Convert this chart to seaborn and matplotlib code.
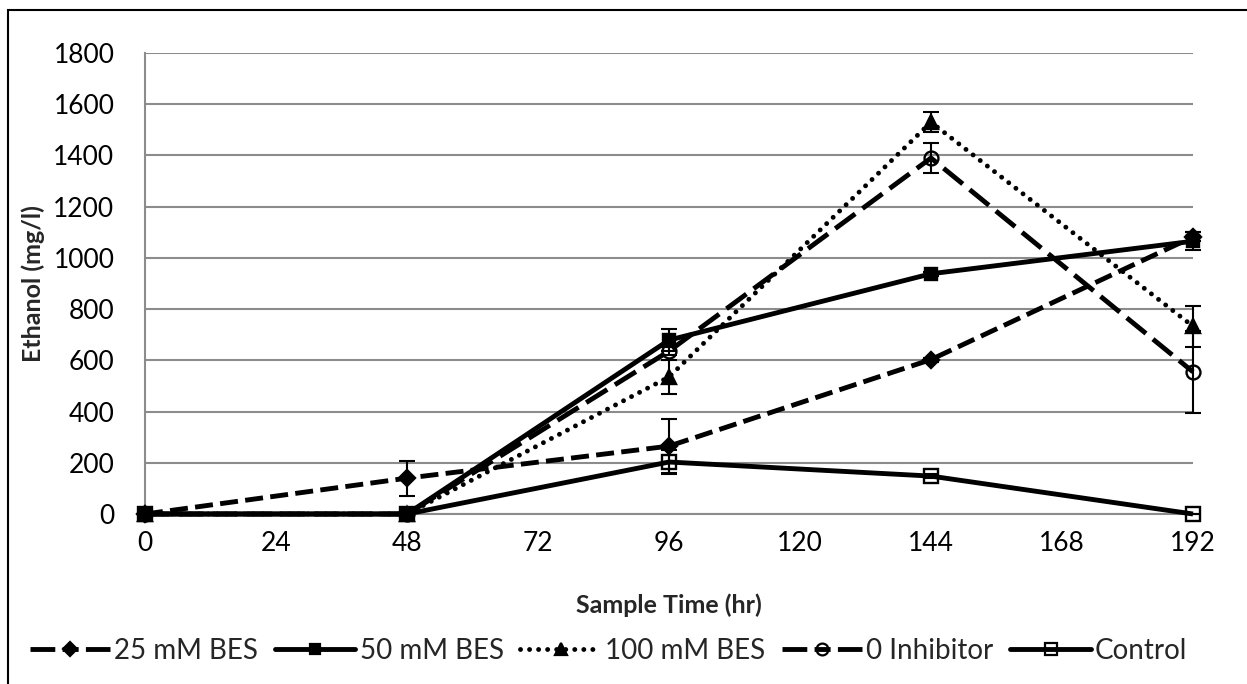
import matplotlib
matplotlib.use("Agg")
import matplotlib.pyplot as plt
from matplotlib.patches import Rectangle
from matplotlib.lines import Line2D
import numpy as np
import pandas as pd
import seaborn as sns

# Sample times (hr)
time_hr = [0, 48, 96, 144, 192]

# Ethanol concentration (mg/l) per treatment
bes_25 = [0, 140, 265, 603, 1082]
bes_50 = [0, 0, 679, 938, 1065]
bes_100 = [0, 0, 535, 1530, 733]
no_inhibitor = [0, 0, 636, 1390, 555]
control = [0, 0, 203, 148, 0]

# Error bar half-widths (mg/l)
err_25 = [0, 68, 105, 8, 18]
err_50 = [0, 0, 43, 8, 35]
err_100 = [0, 0, 65, 40, 80]
err_0 = [0, 0, 15, 57, 160]
err_ctrl = [0, 0, 45, 8, 0]

series_names = ["25 mM BES", "50 mM BES", "100 mM BES", "0 Inhibitor", "Control"]
x_ticks = [0, 24, 48, 72, 96, 120, 144, 168, 192]
y_ticks = list(range(0, 1801, 200))

sns.set_theme(style="white")
plt.rcParams["font.family"] = ["Lato", "DejaVu Sans"]

fig = plt.figure(figsize=(12.47, 6.84), dpi=100)
ax = fig.add_axes([145 / 1247, 1 - 514 / 684, (1193 - 145) / 1247, (514 - 53) / 684])

LW = 3.5
# legend handle dashes: dash, gap, (marker), gap, dash
LEG_DASH = (0, (5.1, 1.5, 3.3, 1.5))
styles = [
    dict(values=bes_25, err=err_25, ls=(0, (3.7, 1.5)), cap="butt", marker="D", ms=8.5, mfc="black",
         leg_ls=LEG_DASH),
    dict(values=bes_50, err=err_50, ls="-", cap="butt", marker="s", ms=8.5, mfc="black",
         leg_ls="-"),
    dict(values=bes_100, err=err_100, ls=(0, (0.01, 1.85)), cap="round", marker="^", ms=10.5, mfc="black",
         leg_ls=(0, (0.01, 1.85))),
    dict(values=no_inhibitor, err=err_0, ls=(0, (5.1, 1.85)), cap="butt", marker="o", ms=10, mfc="none",
         leg_ls=LEG_DASH),
    dict(values=control, err=err_ctrl, ls="-", cap="butt", marker="s", ms=10, mfc="none",
         leg_ls="-"),
]

handles = []
for name, st in zip(series_names, styles):
    df = pd.DataFrame({"time": time_hr, "ethanol": st["values"]})
    eb = ax.errorbar(time_hr, st["values"], yerr=st["err"], fmt="none", ecolor="black",
                     elinewidth=1.5, capsize=5.5, capthick=1.5, zorder=3)
    for art in eb.lines[1] + eb.lines[2]:
        art.set_clip_on(False)
    sns.lineplot(data=df, x="time", y="ethanol", ax=ax, color="black", lw=LW,
                 linestyle=st["ls"], marker=st["marker"], markersize=st["ms"],
                 markerfacecolor=st["mfc"], markeredgecolor="black", markeredgewidth=1.7,
                 dash_capstyle=st["cap"], solid_capstyle="butt", zorder=4,
                 clip_on=False, legend=False)
    handles.append(Line2D([], [], color="black", lw=LW, linestyle=st["leg_ls"],
                          dash_capstyle=st["cap"], marker=st["marker"], markersize=st["ms"] * 0.85,
                          markerfacecolor=st["mfc"], markeredgecolor="black",
                          markeredgewidth=1.6, label=name))

ax.set_xlim(0, 192)
ax.set_ylim(0, 1800)
ax.set_xticks(x_ticks)
ax.set_yticks(y_ticks)
ax.tick_params(axis="both", length=0, labelsize=19, colors="black")
ax.tick_params(axis="x", pad=12)
ax.tick_params(axis="y", pad=22)
ax.grid(axis="y", color="#8c8c8c", lw=1.5)
ax.grid(axis="x", visible=False)
for side in ["top", "right"]:
    ax.spines[side].set_visible(False)
for side in ["left", "bottom"]:
    ax.spines[side].set_color("#8c8c8c")
    ax.spines[side].set_linewidth(1.5)
ax.set_axisbelow(True)

ax.set_xlabel("Sample Time (hr)", fontsize=18, fontweight="bold", labelpad=27)
ax.set_ylabel("Ethanol (mg/l)", fontsize=18, fontweight="bold", labelpad=6)

fig.legend(handles, series_names, loc="center", bbox_to_anchor=(0.488, 1 - 651 / 684), ncol=5,
           frameon=False, fontsize=20, handlelength=2.9, handletextpad=0.15,
           columnspacing=0.6)

# Chart frame
fig.patches.append(Rectangle((8 / 1247, -0.1), 1.2, 1 - 10 / 684 + 0.1, transform=fig.transFigure,
                             fill=False, edgecolor="black", lw=1.5))

fig.savefig("out.png", dpi=100)
